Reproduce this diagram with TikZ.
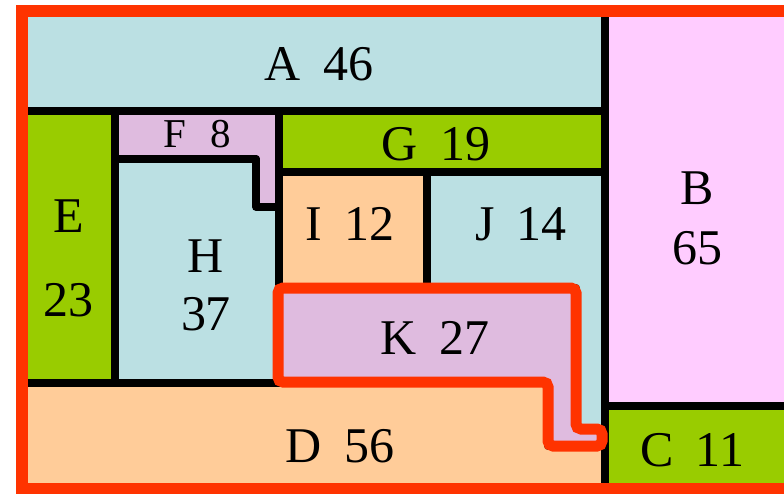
\documentclass[tikz,border=0pt]{standalone}
\usepackage{fontspec}
\setmainfont{Liberation Serif}
\definecolor{tmblue}{HTML}{BBE0E3}
\definecolor{tmpink}{HTML}{FFCCFF}
\definecolor{tmgreen}{HTML}{99CC00}
\definecolor{tmpeach}{HTML}{FFCC99}
\definecolor{tmlilac}{HTML}{DFBBDF}
\definecolor{tmred}{HTML}{FF3300}
\newcommand\gap{\hspace{0.45em}}
\tikzset{
  cell/.style={draw=black,line width=3.75pt,line join=round},
  hilite/.style={draw=tmred,line width=5.5pt,rounded corners=2.5pt,fill=tmlilac},
  outerframe/.style={draw=tmred,line width=6pt},
  lbl/.style={font=\fontsize{25}{30}\selectfont,align=center,inner sep=0pt},
  smalllbl/.style={lbl,font=\fontsize{20.5}{24}\selectfont}
}

\begin{document}
\begin{tikzpicture}[x=0.5pt,y=-0.5pt]
  \useasboundingbox (0,0) rectangle (784,494);
  \clip (0,0) rectangle (784,494);

  % cells of the map
  \filldraw[cell,fill=tmblue]  (22,11) -- (605,11) -- (605,111) -- (22,111) -- cycle;                  % A
  \filldraw[cell,fill=tmpink]  (605,11) -- (790,11) -- (790,406) -- (605,406) -- cycle;                % B
  \filldraw[cell,fill=tmgreen] (605,406) -- (790,406) -- (790,489) -- (605,489) -- cycle;              % C
  \filldraw[cell,fill=tmpeach] (22,383) -- (548,383) -- (548,446) -- (605,446) -- (605,489)
                               -- (22,489) -- cycle;                                                   % D
  \filldraw[cell,fill=tmgreen] (22,111) -- (115,111) -- (115,383) -- (22,383) -- cycle;                % E
  \filldraw[cell,fill=tmlilac] (115,111) -- (279,111) -- (279,207) -- (256,207) -- (256,159)
                               -- (115,159) -- cycle;                                                  % F
  \filldraw[cell,fill=tmgreen] (279,111) -- (605,111) -- (605,172) -- (279,172) -- cycle;              % G
  \filldraw[cell,fill=tmblue]  (115,159) -- (256,159) -- (256,207) -- (279,207) -- (279,383)
                               -- (115,383) -- cycle;                                                  % H
  \filldraw[cell,fill=tmpeach] (279,172) -- (427,172) -- (427,288) -- (279,288) -- cycle;              % I
  \filldraw[cell,fill=tmblue]  (427,172) -- (605,172) -- (605,429) -- (576,429) -- (576,288)
                               -- (427,288) -- cycle;                                                  % J

  % highlighted cell K
  \filldraw[hilite] (278,288) -- (576,288) -- (576,429) -- (602,429) -- (602,446) -- (548,446)
                    -- (548,382) -- (278,382) -- cycle;

  \draw[outerframe] (22,11) rectangle (790,489);

  % labels
  \node[lbl] (lblA) at (319,64) {A\gap46};
  \node[lbl] (lblB) at (697,218) {B\\65};
  \node[lbl] (lblC) at (692,450) {C\gap11};
  \node[lbl] (lblD) at (340,446) {D\gap56};
  \node[lbl] (lblE) at (69,258) {E\\[12pt]23};
  \node[smalllbl] (lblF) at (197,134) {F\hspace{0.6em}8};
  \node[lbl] (lblG) at (436,144) {G\gap19};
  \node[lbl] (lblH) at (206,285) {H\\[-1pt]37};
  \node[lbl] (lblI) at (350,224) {I\gap12};
  \node[lbl] (lblJ) at (521,224) {J\gap14};
  \node[lbl] (lblK) at (435,338) {K\gap27};
\end{tikzpicture}
\end{document}
